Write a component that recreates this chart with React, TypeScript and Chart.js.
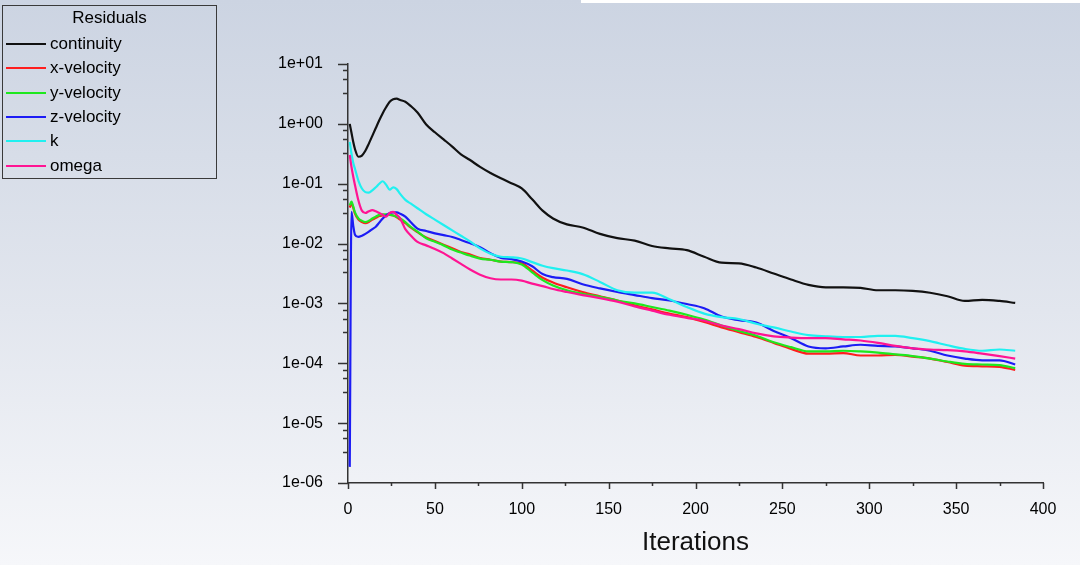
import React, { useEffect, useRef } from "react";
import { Chart, registerables } from "chart.js";

Chart.register(...registerables);

// Iteration numbers at which residuals were read
const iterations = [
  1, 2, 3, 4, 6, 8, 10, 12, 14, 16, 18, 20, 22, 24, 26, 28, 30, 33, 36, 40,
  45, 50, 55, 60, 65, 70, 76, 82, 88, 94, 100, 106, 112, 118, 126, 135,
  145, 155, 165, 175, 185, 195, 205, 215, 225, 235, 245, 255, 265, 275,
  285, 295, 305, 315, 325, 335, 345, 355, 365, 375, 384,
];

const continuity = [
  1.0, 7.08e-1, 5.01e-1, 3.8e-1, 2.82e-1, 2.95e-1, 3.55e-1, 4.68e-1, 6.31e-1, 8.51e-1,
  1.15, 1.51, 1.91, 2.34, 2.57, 2.63, 2.51, 2.34, 2.0, 1.55,
  9.77e-1, 7.24e-1, 5.5e-1, 4.17e-1, 3.1e-1, 2.51e-1, 1.91e-1, 1.51e-1, 1.23e-1, 1.02e-1,
  8.32e-2, 5.5e-2, 3.55e-2, 2.63e-2, 2.09e-2, 1.86e-2,
  1.45e-2, 1.23e-2, 1.12e-2, 9.12e-3, 8.32e-3, 7.76e-3, 6.03e-3, 4.79e-3, 4.68e-3, 3.98e-3,
  3.16e-3, 2.51e-3, 2.04e-3, 1.86e-3, 1.86e-3, 1.82e-3, 1.66e-3, 1.66e-3, 1.62e-3, 1.51e-3,
  1.32e-3, 1.1e-3, 1.15e-3, 1.1e-3, 1.02e-3,
];

const xVelocity = [
  3.98e-2, 4.68e-2, 3.98e-2, 3.16e-2, 2.51e-2, 2.29e-2, 2.19e-2, 2.29e-2, 2.51e-2, 2.69e-2,
  2.88e-2, 2.95e-2, 3.02e-2, 3.02e-2, 2.95e-2, 2.75e-2, 2.51e-2, 2.19e-2, 1.86e-2, 1.55e-2,
  1.26e-2, 1.1e-2, 9.55e-3, 8.32e-3, 7.24e-3, 6.61e-3, 5.75e-3, 5.37e-3, 5.01e-3, 4.9e-3,
  4.68e-3, 3.55e-3, 2.69e-3, 2.24e-3, 1.86e-3, 1.55e-3,
  1.32e-3, 1.12e-3, 9.33e-4, 7.94e-4, 6.76e-4, 5.89e-4, 4.9e-4, 3.98e-4, 3.31e-4, 2.75e-4,
  2.19e-4, 1.74e-4, 1.45e-4, 1.45e-4, 1.48e-4, 1.35e-4, 1.35e-4, 1.38e-4, 1.29e-4, 1.2e-4,
  1.05e-4, 9.12e-5, 8.91e-5, 8.71e-5, 7.76e-5,
];

const yVelocity = [
  4.37e-2, 5.01e-2, 4.17e-2, 3.31e-2, 2.63e-2, 2.4e-2, 2.29e-2, 2.4e-2, 2.63e-2, 2.82e-2,
  3.02e-2, 3.09e-2, 3.09e-2, 3.02e-2, 2.95e-2, 2.82e-2, 2.63e-2, 2.29e-2, 1.91e-2, 1.58e-2,
  1.23e-2, 1.07e-2, 9.33e-3, 7.94e-3, 7.08e-3, 6.31e-3, 5.62e-3, 5.37e-3, 5.01e-3, 4.9e-3,
  4.47e-3, 3.31e-3, 2.45e-3, 2.0e-3, 1.66e-3, 1.45e-3,
  1.29e-3, 1.12e-3, 1.0e-3, 8.71e-4, 7.59e-4, 6.46e-4, 5.37e-4, 4.27e-4, 3.47e-4, 2.88e-4,
  2.24e-4, 1.86e-4, 1.58e-4, 1.58e-4, 1.62e-4, 1.58e-4, 1.51e-4, 1.41e-4, 1.32e-4, 1.2e-4,
  1.07e-4, 9.77e-5, 9.55e-5, 9.33e-5, 8.32e-5,
];

const zVelocity = [
  1.86e-6, 3.39e-2, 2.0e-2, 1.41e-2, 1.29e-2, 1.35e-2, 1.45e-2, 1.58e-2, 1.74e-2, 1.91e-2,
  2.24e-2, 2.63e-2, 2.95e-2, 3.24e-2, 3.31e-2, 3.31e-2, 3.16e-2, 2.82e-2, 2.29e-2, 1.78e-2,
  1.62e-2, 1.48e-2, 1.38e-2, 1.29e-2, 1.15e-2, 1.02e-2, 8.71e-3, 6.92e-3, 5.75e-3, 5.5e-3,
  5.01e-3, 4.17e-3, 3.09e-3, 2.75e-3, 2.57e-3, 2.09e-3,
  1.78e-3, 1.55e-3, 1.38e-3, 1.23e-3, 1.12e-3, 9.77e-4, 8.32e-4, 6.03e-4, 5.25e-4, 4.79e-4,
  3.47e-4, 2.63e-4, 1.91e-4, 1.78e-4, 1.91e-4, 2.04e-4, 1.95e-4, 1.91e-4, 1.78e-4, 1.62e-4,
  1.35e-4, 1.2e-4, 1.12e-4, 1.12e-4, 9.55e-5,
];

const kResidual = [
  5.01e-1, 3.16e-1, 2.24e-1, 1.78e-1, 1.12e-1, 8.32e-2, 7.24e-2, 7.08e-2, 7.76e-2, 8.71e-2,
  1.0e-1, 1.1e-1, 9.55e-2, 7.94e-2, 8.71e-2, 8.13e-2, 6.76e-2, 5.37e-2, 4.68e-2, 3.89e-2,
  3.09e-2, 2.51e-2, 2.04e-2, 1.66e-2, 1.35e-2, 1.1e-2, 8.32e-3, 6.76e-3, 6.03e-3, 5.89e-3,
  5.62e-3, 4.9e-3, 4.27e-3, 3.89e-3, 3.55e-3, 3.09e-3,
  2.29e-3, 1.66e-3, 1.51e-3, 1.51e-3, 1.17e-3, 8.71e-4, 6.76e-4, 5.89e-4, 5.5e-4, 4.57e-4,
  3.98e-4, 3.39e-4, 2.95e-4, 2.82e-4, 2.75e-4, 2.75e-4, 2.88e-4, 2.88e-4, 2.63e-4, 2.34e-4,
  2.0e-4, 1.74e-4, 1.62e-4, 1.7e-4, 1.62e-4,
];

const omega = [
  3.02e-1, 1.91e-1, 1.32e-1, 9.55e-2, 5.25e-2, 3.55e-2, 3.24e-2, 3.47e-2, 3.63e-2, 3.47e-2,
  3.24e-2, 3.02e-2, 2.82e-2, 3.24e-2, 3.39e-2, 3.02e-2, 2.63e-2, 1.74e-2, 1.38e-2, 1.07e-2,
  9.33e-3, 8.13e-3, 6.92e-3, 5.62e-3, 4.57e-3, 3.72e-3, 3.02e-3, 2.63e-3, 2.51e-3, 2.51e-3,
  2.4e-3, 2.14e-3, 1.95e-3, 1.74e-3, 1.55e-3, 1.38e-3,
  1.23e-3, 1.07e-3, 8.91e-4, 7.59e-4, 6.46e-4, 5.75e-4, 5.13e-4, 4.27e-4, 3.72e-4, 3.16e-4,
  2.82e-4, 2.69e-4, 2.63e-4, 2.63e-4, 2.51e-4, 2.4e-4, 2.19e-4, 1.95e-4, 1.78e-4, 1.7e-4,
  1.66e-4, 1.58e-4, 1.45e-4, 1.32e-4, 1.2e-4,
];

const seriesNames = ["continuity", "x-velocity", "y-velocity", "z-velocity", "k", "omega"];
const seriesColors = ["#111111", "#ff1e1e", "#1ee81e", "#1c1cf5", "#20f0f0", "#ff1493"];

const xTickValues = [0, 50, 100, 150, 200, 250, 300, 350, 400];
const xMinorTicks = [25, 75, 125, 175, 225, 275, 325, 375];
const yTickValues = [1e-6, 1e-5, 1e-4, 1e-3, 1e-2, 1e-1, 1e0, 1e1];
const yMinorFactors = [0.78, 0.56, 0.33];

const FONT = "'Liberation Sans', Arial, Helvetica, sans-serif";

function formatExp(v: number): string {
  const e = Math.round(Math.log10(v));
  const s = String(Math.abs(e)).padStart(2, "0");
  return "1e" + (e >= 0 ? "+" : "-") + s;
}

export default function App() {
  const canvasRef = useRef<HTMLCanvasElement>(null);

  useEffect(() => {
    if (!canvasRef.current) return;
    const seriesValues = [continuity, xVelocity, yVelocity, zVelocity, kResidual, omega];
    const datasets = seriesNames.map((name, i) => ({
      label: name,
      data: iterations.map((it, j) => ({ x: it, y: seriesValues[i][j] })),
      borderColor: seriesColors[i],
      backgroundColor: seriesColors[i],
      borderWidth: 2.2,
      pointRadius: 0,
      fill: false,
      cubicInterpolationMode: "monotone" as const,
      order: seriesNames.length - i,
    }));

    const tickPlugin = {
      id: "tickMarks",
      afterDraw(chart: any) {
        const ctx = chart.ctx;
        const xs = chart.scales.x;
        const ys = chart.scales.y;
        const { left, bottom } = chart.chartArea;
        ctx.save();
        ctx.strokeStyle = "#333333";
        ctx.lineWidth = 1.5;
        ctx.beginPath();
        yTickValues.forEach((v, idx) => {
          const y = Math.round(ys.getPixelForValue(v)) + 0.5;
          ctx.moveTo(left - 10, y);
          ctx.lineTo(left, y);
          if (idx > 0) {
            yMinorFactors.forEach((f) => {
              const ym = Math.round(ys.getPixelForValue(v * f)) + 0.5;
              ctx.moveTo(left - 5, ym);
              ctx.lineTo(left, ym);
            });
          }
        });
        xTickValues.forEach((v) => {
          const x = Math.round(xs.getPixelForValue(v)) + 0.5;
          ctx.moveTo(x, bottom);
          ctx.lineTo(x, bottom + 6);
        });
        xMinorTicks.forEach((v) => {
          const x = Math.round(xs.getPixelForValue(v)) + 0.5;
          ctx.moveTo(x, bottom);
          ctx.lineTo(x, bottom + 3);
        });
        ctx.stroke();
        ctx.restore();
      },
    };

    const chart = new Chart(canvasRef.current, {
      type: "line",
      data: { datasets },
      options: {
        animation: false,
        responsive: false,
        devicePixelRatio: 1,
        parsing: false as any,
        normalized: true,
        layout: { padding: { left: 0, top: 64, right: 37, bottom: 0 } },
        plugins: {
          legend: { display: false },
          tooltip: { enabled: false },
          title: { display: false },
        },
        scales: {
          x: {
            type: "linear",
            min: 0,
            max: 400,
            grid: { display: false, drawTicks: false },
            border: { display: true, color: "#333333", width: 1.5 },
            afterBuildTicks: (scale: any) => {
              scale.ticks = xTickValues.map((v) => ({ value: v }));
            },
            afterFit: (scale: any) => {
              scale.height = 82;
            },
            ticks: {
              autoSkip: false,
              maxRotation: 0,
              padding: 17,
              color: "#000000",
              font: { family: FONT, size: 16 },
              callback: (v: any) => String(v),
            },
            title: {
              display: true,
              text: "Iterations",
              color: "#111111",
              font: { family: FONT, size: 26 },
              padding: { top: 0, bottom: 7 },
            },
          },
          y: {
            type: "logarithmic",
            min: 1e-6,
            max: 10,
            grid: { display: false, drawTicks: false },
            border: { display: true, color: "#333333", width: 1.5 },
            afterBuildTicks: (scale: any) => {
              scale.ticks = yTickValues.map((v) => ({ value: v }));
            },
            afterFit: (scale: any) => {
              scale.width = 348;
            },
            ticks: {
              autoSkip: false,
              padding: 25,
              color: "#000000",
              font: { family: FONT, size: 16 },
              callback: (v: any) => formatExp(Number(v)),
            },
          },
        },
      },
      plugins: [tickPlugin],
    } as any);

    return () => chart.destroy();
  }, []);

  const legendRowTops = [43, 67, 92, 116, 140, 165];

  return (
    <div
      style={{
        position: "absolute",
        left: 0,
        top: 0,
        width: 1080,
        height: 565,
        overflow: "hidden",
        background: "linear-gradient(to bottom, #ccd4e2 0%, #e2e6ee 55%, #f6f7fa 100%)",
        fontFamily: FONT,
      }}
    >
      <div
        style={{
          position: "absolute",
          left: 581,
          top: 0,
          width: 499,
          height: 3,
          background: "#ffffff",
        }}
      />
      <canvas
        ref={canvasRef}
        width={1080}
        height={565}
        style={{ position: "absolute", left: 0, top: 0, width: 1080, height: 565 }}
      />
      <div
        style={{
          position: "absolute",
          left: 2,
          top: 5,
          width: 213,
          height: 172,
          border: "1px solid #3a3a3a",
        }}
      >
        <div
          style={{
            position: "absolute",
            left: 0,
            width: 213,
            top: 2,
            textAlign: "center",
            fontSize: 17,
            lineHeight: "20px",
            color: "#000",
          }}
        >
          Residuals
        </div>
        {seriesNames.map((name, i) => (
          <div key={name}>
            <div
              style={{
                position: "absolute",
                left: 3,
                top: legendRowTops[i] - 5 - 1,
                width: 40,
                height: 2,
                background: seriesColors[i],
              }}
            />
            <div
              style={{
                position: "absolute",
                left: 47,
                top: legendRowTops[i] - 5 - 10,
                fontSize: 17,
                lineHeight: "20px",
                color: "#000",
              }}
            >
              {name}
            </div>
          </div>
        ))}
      </div>
    </div>
  );
}
